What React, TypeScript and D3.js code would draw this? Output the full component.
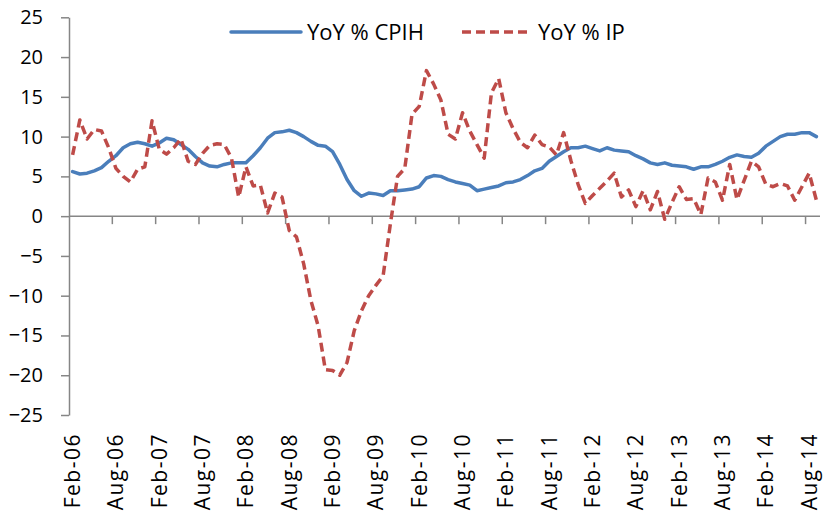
import * as d3 from 'd3'
import { useEffect, useRef } from 'react'

// monthly categories, Feb-06 .. Sep-14
const months = d3.timeMonths(new Date(2006, 1, 1), new Date(2014, 9, 1))
const monthLabels = months.map((d) => d3.timeFormat('%b-%y')(d))

const cpih = [
  5.6, 5.3, 5.4, 5.7, 6.1, 6.9, 7.6, 8.6, 9.1, 9.3,
  9.1, 8.8, 9.2, 9.8, 9.6, 9.0, 8.4, 7.5, 6.7, 6.3,
  6.2, 6.5, 6.7, 6.7, 6.7, 7.6, 8.6, 9.8, 10.5, 10.6,
  10.8, 10.5, 10.0, 9.4, 8.9, 8.8, 8.1, 6.5, 4.6, 3.2,
  2.5, 2.9, 2.8, 2.6, 3.2, 3.2, 3.3, 3.4, 3.7, 4.8,
  5.1, 5.0, 4.6, 4.3, 4.1, 3.9, 3.2, 3.4, 3.6, 3.8,
  4.2, 4.3, 4.6, 5.1, 5.7, 6.0, 6.9, 7.5, 8.1, 8.6,
  8.6, 8.8, 8.5, 8.2, 8.6, 8.3, 8.2, 8.1, 7.6, 7.2,
  6.7, 6.5, 6.7, 6.4, 6.3, 6.2, 5.9, 6.2, 6.2, 6.5,
  6.9, 7.4, 7.7, 7.5, 7.4, 7.9, 8.8, 9.4, 10.0, 10.3,
  10.3, 10.5, 10.5, 10.0,
]

const ip = [
  7.7, 12.1, 9.7, 10.9, 10.7, 8.6, 6.0, 5.0, 4.3, 5.9,
  6.2, 12.0, 8.4, 7.8, 8.6, 9.7, 6.9, 6.5, 7.9, 8.9,
  9.1, 9.0, 7.3, 2.4, 6.2, 3.8, 3.9, 0.4, 2.9, 2.4,
  -1.8, -2.6, -6.0, -10.6, -13.8, -19.3, -19.4, -20.0, -18.4, -14.4,
  -11.9, -10.0, -8.7, -7.5, -1.0, 5.0, 6.0, 12.8, 13.8, 18.3,
  16.6, 14.6, 10.3, 9.7, 13.0, 10.7, 9.0, 7.3, 15.5, 17.3,
  13.0, 11.0, 9.3, 8.6, 10.2, 9.0, 8.7, 7.7, 10.5, 7.0,
  4.0, 1.6, 2.6, 3.5, 4.4, 5.4, 2.4, 3.3, 1.2, 3.2,
  0.8, 3.1, -0.4, 1.7, 3.7, 2.1, 2.2, 0.2, 4.8, 4.3,
  2.0, 6.5, 2.1, 4.5, 6.9, 6.2, 4.0, 3.7, 4.1, 3.8,
  2.0, 3.7, 5.4, 2.0,
]

const yTicks = [-25, -20, -15, -10, -5, 0, 5, 10, 15, 20, 25]
const seriesNames = ['YoY % CPIH', 'YoY % IP']

const BLUE = '#4A7EBB'
const RED = '#BE4B48'
const AXIS = '#868686'
const FONT = '"Open Sans", Lato, sans-serif'

const App = () => {
  const ref = useRef<HTMLDivElement>(null)

  useEffect(() => {
    document.body.style.margin = '0'
    if (!ref.current) return
    const width = 825
    const height = 512

    d3.select(ref.current).select('svg').remove()
    const svg = d3
      .select(ref.current)
      .append('svg')
      .attr('width', width)
      .attr('height', height)
      .style('display', 'block')
      .style('background', '#fff')

    const x = d3.scaleBand<number>().domain(d3.range(monthLabels.length)).range([69, 820]).padding(0)
    const y = d3.scaleLinear().domain([-25, 25]).range([415, 17.3])
    const cx = (i: number) => (x(i) as number) + x.bandwidth() / 2

    // Y axis
    const gy = svg
      .append('g')
      .attr('transform', `translate(${x.range()[0]},0)`)
      .call(d3.axisLeft(y).tickValues(yTicks).tickSize(8).tickPadding(18).tickSizeOuter(0))
    gy.select('.domain').attr('stroke', AXIS).attr('stroke-width', 1.5)
    gy.selectAll('.tick line').attr('stroke', AXIS).attr('stroke-width', 1.5)
    gy.selectAll('.tick text')
      .attr('fill', '#000')
      .style('font-family', FONT)
      .style('font-size', '20px')

    // X axis at zero, ticks between categories every 6 months
    const tickIdx = d3.range(0, monthLabels.length, 6)
    const gx = svg.append('g')
    gx.append('line')
      .attr('x1', x.range()[0])
      .attr('x2', x.range()[1])
      .attr('y1', y(0))
      .attr('y2', y(0))
      .attr('stroke', AXIS)
      .attr('stroke-width', 1.5)
    gx.selectAll('line.tk')
      .data(tickIdx.slice(1))
      .enter()
      .append('line')
      .attr('class', 'tk')
      .attr('x1', (d) => x(d) as number)
      .attr('x2', (d) => x(d) as number)
      .attr('y1', y(0))
      .attr('y2', y(0) + 8)
      .attr('stroke', AXIS)
      .attr('stroke-width', 1.5)

    // labels at the bottom of the plot
    svg
      .append('g')
      .selectAll('text')
      .data(tickIdx)
      .enter()
      .append('text')
      .attr('transform', (d) => `translate(${cx(d) + 7.5},433) rotate(-90)`)
      .attr('text-anchor', 'end')
      .style('font-family', FONT)
      .style('font-size', '21px')
      .style('letter-spacing', '1.5px')
      .text((d) => monthLabels[d])

    const line = d3
      .line<number>()
      .x((_, i) => cx(i))
      .y((d) => y(d))

    svg
      .append('path')
      .datum(cpih)
      .attr('d', line)
      .attr('fill', 'none')
      .attr('stroke', BLUE)
      .attr('stroke-width', 3.5)
      .attr('stroke-linejoin', 'round')
      .attr('stroke-linecap', 'round')

    svg
      .append('path')
      .datum(ip)
      .attr('d', line)
      .attr('fill', 'none')
      .attr('stroke', RED)
      .attr('stroke-width', 3.5)
      .attr('stroke-dasharray', '9,5')
      .attr('stroke-linejoin', 'round')

    // legend
    const legend = [
      { name: seriesNames[0], color: BLUE, dash: null, x0: 231 },
      { name: seriesNames[1], color: RED, dash: '9,5', x0: 462 },
    ]
    const lg = svg.append('g')
    legend.forEach((l) => {
      lg.append('line')
        .attr('x1', l.x0)
        .attr('x2', l.x0 + 70)
        .attr('y1', 32)
        .attr('y2', 32)
        .attr('stroke', l.color)
        .attr('stroke-width', 3.5)
        .attr('stroke-dasharray', l.dash)
        .attr('stroke-linecap', l.dash ? 'butt' : 'round')
      lg.append('text')
        .attr('x', l.x0 + 76)
        .attr('y', 40)
        .style('font-family', FONT)
        .style('font-size', '22px')
        .text(l.name)
    })
  }, [])

  return <div ref={ref} />
}

export default App
